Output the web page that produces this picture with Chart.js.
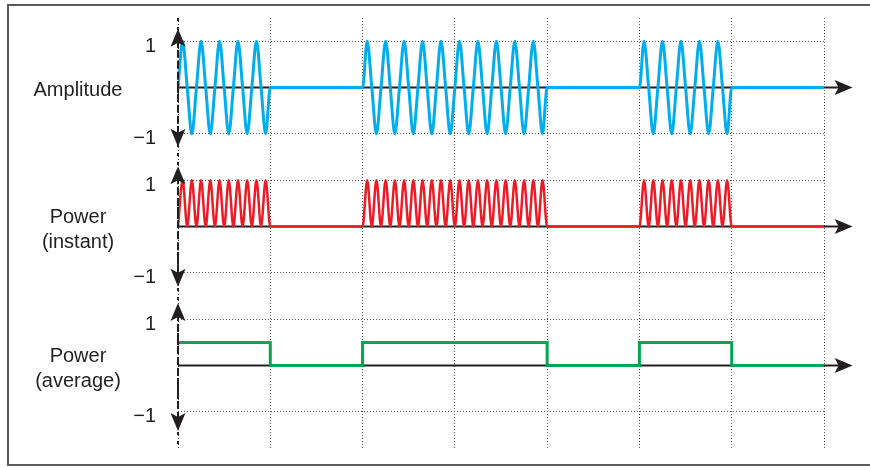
<!DOCTYPE html>
<html>
<head>
<meta charset="utf-8">
<script src="https://cdn.jsdelivr.net/npm/chart.js@4.4.1/dist/chart.umd.min.js"></script>
<style>
  body { margin: 0; background: #fff; }
  #frame { position: absolute; left: 7px; top: 4px; width: 900px; height: 458px; border: 2px solid #5b5b5b; }
  #wrap { position: absolute; left: 0; top: 0; }
</style>
</head>
<body>
<div id="frame"></div>
<div id="wrap"><canvas id="signal" width="870" height="468"></canvas></div>
<script>
// sample times (grid units), shared by amplitude and instant power
var sampleTime = [
    0, 0.05, 0.1, 0.15, 0.2, 0.25, 0.3, 0.35, 0.4, 0.45, 0.5, 0.55, 0.6, 0.65, 0.7, 0.75, 0.8, 0.85, 0.9, 0.95, 1,
    2, 2.05, 2.1, 2.15, 2.2, 2.25, 2.3, 2.35, 2.4, 2.45, 2.5, 2.55, 2.6, 2.65, 2.7, 2.75, 2.8, 2.85, 2.9, 2.95,
    3, 3.05, 3.1, 3.15, 3.2, 3.25, 3.3, 3.35, 3.4, 3.45, 3.5, 3.55, 3.6, 3.65, 3.7, 3.75, 3.8, 3.85, 3.9, 3.95, 4,
    5, 5.05, 5.1, 5.15, 5.2, 5.25, 5.3, 5.35, 5.4, 5.45, 5.5, 5.55, 5.6, 5.65, 5.7, 5.75, 5.8, 5.85, 5.9, 5.95, 6,
    7
];

var amplitude = [
    0, 1, 0, -1, 0, 1, 0, -1, 0, 1, 0, -1, 0, 1, 0, -1, 0, 1, 0, -1, 0,
    0, 1, 0, -1, 0, 1, 0, -1, 0, 1, 0, -1, 0, 1, 0, -1, 0, 1, 0, -1,
    0, 1, 0, -1, 0, 1, 0, -1, 0, 1, 0, -1, 0, 1, 0, -1, 0, 1, 0, -1, 0,
    0, 1, 0, -1, 0, 1, 0, -1, 0, 1, 0, -1, 0, 1, 0, -1, 0, 1, 0, -1, 0,
    0
];

var powerInstant = [
    0, 1, 0, 1, 0, 1, 0, 1, 0, 1, 0, 1, 0, 1, 0, 1, 0, 1, 0, 1, 0,
    0, 1, 0, 1, 0, 1, 0, 1, 0, 1, 0, 1, 0, 1, 0, 1, 0, 1, 0, 1,
    0, 1, 0, 1, 0, 1, 0, 1, 0, 1, 0, 1, 0, 1, 0, 1, 0, 1, 0, 1, 0,
    0, 1, 0, 1, 0, 1, 0, 1, 0, 1, 0, 1, 0, 1, 0, 1, 0, 1, 0, 1, 0,
    0
];

var avgTime = [0, 1, 2, 4, 5, 6, 7];
var powerAverage = [0.5, 0, 0.5, 0, 0.5, 0, 0];

var panelLabels = [['Amplitude'], ['Power', '(instant)'], ['Power', '(average)']];
var tickValues = [-1, 1];
var panelIds = ['yA', 'yB', 'yC'];
var panelMin = [-1.5, -1.5, -1.8];
var panelMax = [1.5, 1.5, 1.5];
var arrowTop = [1.27, 1.3, 1.35];
var arrowBottom = [-1.28, -1.3, -1.41];
var xArrowEnd = 7.31;

var ink = '#231f20';
var labelFont = '20px "Liberation Sans", Arial, sans-serif';

function pts(xs, ys) {
    return xs.map(function (x, i) { return { x: x, y: ys[i] }; });
}

function arrowHead(ctx, tx, ty, dx, dy) {
    // dx, dy: unit direction the arrow points to
    var len = 18, half = 7.5, notch = 4;
    var bx = tx - dx * len, by = ty - dy * len;
    ctx.beginPath();
    ctx.moveTo(tx, ty);
    ctx.lineTo(bx - dy * half, by + dx * half);
    ctx.lineTo(tx - dx * (len - notch), ty - dy * (len - notch));
    ctx.lineTo(bx + dy * half, by - dx * half);
    ctx.closePath();
    ctx.fill();
}

function noPadding(s) {
    s.paddingTop = 0;
    s.paddingBottom = 0;
    s.paddingLeft = 0;
    s.paddingRight = 0;
}

var decor = {
    id: 'decor',
    beforeDatasetsDraw: function (chart) {
        var ctx = chart.ctx, sx = chart.scales.x;
        var x0 = sx.getPixelForValue(0), xe = sx.getPixelForValue(xArrowEnd);
        ctx.save();
        ctx.strokeStyle = ink;
        ctx.fillStyle = ink;
        ctx.lineWidth = 2;
        panelIds.forEach(function (id) {
            var y0 = chart.scales[id].getPixelForValue(0);
            ctx.beginPath();
            ctx.moveTo(x0, y0);
            ctx.lineTo(xe - 12, y0);
            ctx.stroke();
            arrowHead(ctx, xe, y0, 1, 0);
        });
        ctx.restore();
    },
    afterDatasetsDraw: function (chart) {
        var ctx = chart.ctx, area = chart.chartArea;
        var x0 = chart.scales.x.getPixelForValue(0);
        ctx.save();
        ctx.strokeStyle = ink;
        ctx.fillStyle = ink;
        ctx.lineWidth = 2;
        ctx.setLineDash([3, 6]);
        ctx.beginPath();
        ctx.moveTo(x0, area.top);
        ctx.lineTo(x0, area.bottom);
        ctx.stroke();
        panelIds.forEach(function (id, i) {
            var s = chart.scales[id];
            var yt = s.getPixelForValue(arrowTop[i]);
            var yb = s.getPixelForValue(arrowBottom[i]);
            ctx.setLineDash([8, 3]);
            ctx.beginPath();
            ctx.moveTo(x0, yt + 10);
            ctx.lineTo(x0, yb - 10);
            ctx.stroke();
            ctx.setLineDash([]);
            arrowHead(ctx, x0, yt, 0, -1);
            arrowHead(ctx, x0, yb, 0, 1);

            var y0 = s.getPixelForValue(0);
            var lines = panelLabels[i];
            ctx.font = labelFont;
            ctx.textAlign = 'center';
            ctx.textBaseline = 'middle';
            lines.forEach(function (t, k) {
                ctx.fillText(t, 78, y0 + 3 + (k - (lines.length - 1) / 2) * 25);
            });
        });
        ctx.restore();
    }
};

function panelScale(i, weight) {
    return {
        type: 'linear',
        position: 'left',
        stack: 'panels',
        stackWeight: weight,
        min: panelMin[i],
        max: panelMax[i],
        afterBuildTicks: function (s) {
            s.ticks = tickValues.map(function (v) { return { value: v }; });
        },
        afterFit: function (s) { s.width = 60; noPadding(s); },
        border: { display: false, dash: [1, 2] },
        grid: { color: '#555', lineWidth: 1, drawTicks: false },
        ticks: {
            padding: 22,
            labelOffset: 5,
            color: ink,
            font: { family: '"Liberation Sans", Arial, sans-serif', size: 20 },
            callback: function (v) { return v < 0 ? '\u2212' + Math.abs(v) : String(v); }
        }
    };
}

new Chart(document.getElementById('signal'), {
    type: 'line',
    data: {
        datasets: [{
            label: 'Amplitude',
            data: pts(sampleTime, amplitude),
            yAxisID: 'yA',
            borderColor: '#00aeef',
            borderWidth: 3,
            pointRadius: 0,
            tension: 0.4,
            cubicInterpolationMode: 'monotone'
        }, {
            label: 'Power (instant)',
            data: pts(sampleTime, powerInstant),
            yAxisID: 'yB',
            borderColor: '#ed1c24',
            borderWidth: 2.5,
            pointRadius: 0,
            tension: 0.4,
            cubicInterpolationMode: 'monotone'
        }, {
            label: 'Power (average)',
            data: pts(avgTime, powerAverage),
            yAxisID: 'yC',
            borderColor: '#00a651',
            borderWidth: 3,
            pointRadius: 0,
            stepped: true
        }]
    },
    options: {
        responsive: false,
        animation: false,
        layout: { padding: { top: 18, bottom: 19, left: 118, right: 46 } },
        plugins: { legend: { display: false }, tooltip: { enabled: false } },
        scales: {
            x: {
                type: 'linear',
                min: 0,
                max: 7,
                ticks: { display: false, stepSize: 1, includeBounds: false },
                afterFit: function (s) { s.height = 0; noPadding(s); },
                border: { display: false, dash: [1, 2] },
                grid: { color: '#555', lineWidth: 1, drawTicks: false }
            },
            // stacked axes are laid out bottom-up, so the bottom panel comes first
            yC: panelScale(2, 3.3),
            yB: panelScale(1, 3),
            yA: panelScale(0, 3)
        }
    },
    plugins: [decor]
});
</script>
</body>
</html>
